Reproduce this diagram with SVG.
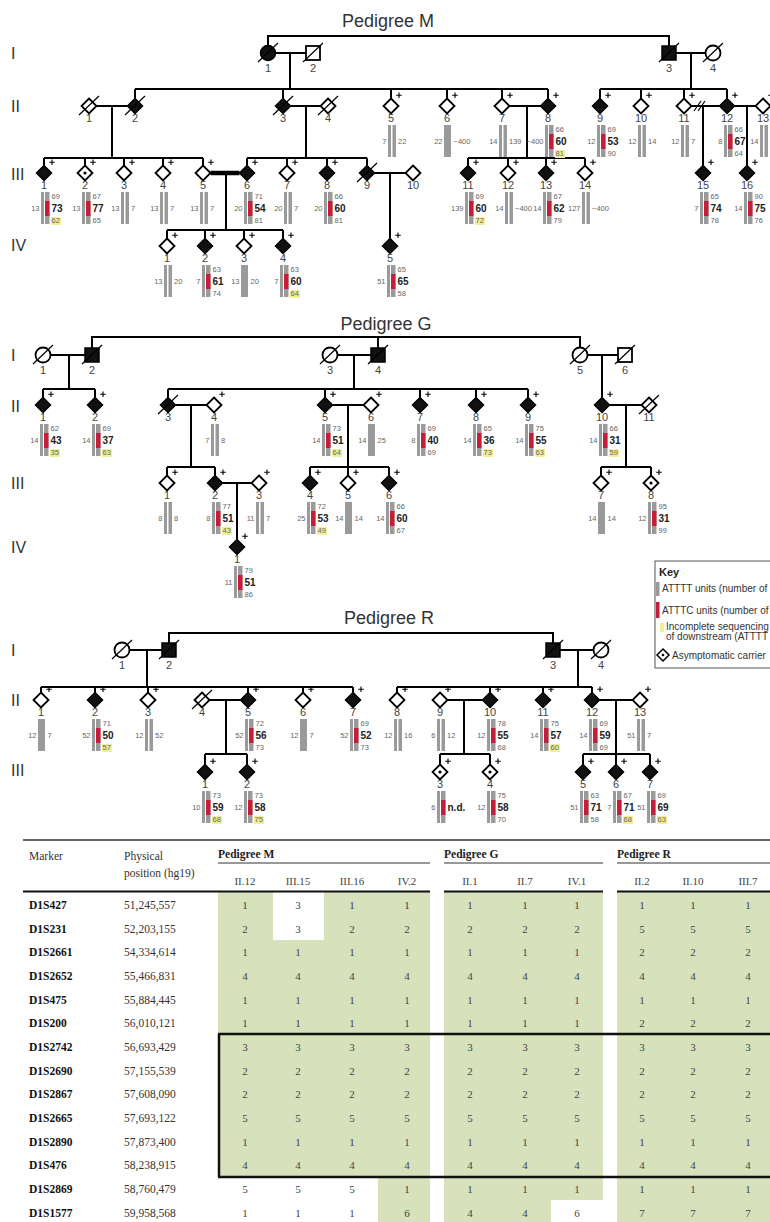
<svg xmlns="http://www.w3.org/2000/svg" width="770" height="1222" viewBox="0 0 770 1222">
<style>
text{font-family:"Liberation Sans",Arial,sans-serif}
.n{font-size:11px;fill:#444;text-anchor:middle}
.s{font-size:7.5px;fill:#666}
.sl{font-size:7.5px;fill:#666;text-anchor:end}
.b{font-size:10px;font-weight:bold;fill:#222}
.g{font-size:16px;fill:#333}
.ti{font-size:18px;fill:#333;text-anchor:middle}
.yl{fill:#f3ee98}
.ln{stroke:#000;stroke-width:2;fill:none}
.k{font-size:10px;fill:#333}
.tm,.tp,.th,.tc{font-family:"Liberation Serif","Times New Roman",serif}
.tm{font-size:11.5px;font-weight:bold;fill:#111}
.tp{font-size:11.5px;fill:#333}
.th{font-size:11.5px;font-weight:bold;fill:#222}
.tc{font-size:11px;fill:#444;text-anchor:middle}
.grn{fill:#d7e2bd}
</style>
<defs>
<polygon id="dF" points="0,-7.5 7.5,0 0,7.5 -7.5,0" fill="#111" stroke="#000" stroke-width="1.5"/>
<polygon id="dO" points="0,-7.5 7.5,0 0,7.5 -7.5,0" fill="#fff" stroke="#000" stroke-width="1.8"/>
<g id="dC"><polygon points="0,-7.5 7.5,0 0,7.5 -7.5,0" fill="#fff" stroke="#000" stroke-width="1.8"/><circle r="1.6" fill="#000"/></g>
<rect id="sqF" x="-7" y="-7" width="14" height="14" fill="#111" stroke="#000" stroke-width="1.5"/>
<rect id="sqO" x="-7" y="-7" width="14" height="14" fill="#fff" stroke="#000" stroke-width="1.8"/>
<circle id="ciO" r="7.5" fill="#fff" stroke="#000" stroke-width="1.8"/>
<circle id="ciF" r="7.5" fill="#111" stroke="#000" stroke-width="1.5"/>
<path id="pl" d="M8,-13.5V-8M5.25,-10.75H10.75" stroke="#000" stroke-width="1.1"/>
<path id="sl" d="M-10,9L10,-10" stroke="#000" stroke-width="1.2"/>
<g id="bU"><rect x="-3" y="19" width="3" height="32" fill="#9a9a9a"/><rect x="1.5" y="19" width="3.5" height="32" fill="#9a9a9a"/></g>
<g id="bA"><rect x="-3" y="19" width="3" height="32" fill="#9a9a9a"/><rect x="1" y="19" width="4.5" height="32" fill="#9a9a9a"/><rect x="1" y="28" width="4.5" height="15" fill="#c41e3a"/></g>
<rect id="bS" x="-3" y="19" width="7" height="32" fill="#9a9a9a"/>
</defs>
<rect width="770" height="1222" fill="#fff"/>

<!-- titles and generation labels -->
<text class="ti" x="388" y="27">Pedigree M</text>
<text class="ti" x="386" y="330">Pedigree G</text>
<text class="ti" x="389" y="624">Pedigree R</text>
<g id="gen-labels">
<text class="g" x="11" y="59">I</text><text class="g" x="11" y="112">II</text><text class="g" x="11" y="180">III</text><text class="g" x="11" y="251">IV</text>
<text class="g" x="11" y="361">I</text><text class="g" x="11" y="412">II</text><text class="g" x="11" y="489">III</text><text class="g" x="11" y="553">IV</text>
<text class="g" x="11" y="656">I</text><text class="g" x="11" y="706">II</text><text class="g" x="11" y="776">III</text>
</g>

<g id="connectors">
<path class="ln" d="M268,45.5V36H669V46M275.5,53H306M290,53V89M135,89H548M135,89V98.5M283,89V98.5M391,89V98.5M447,89V98.5M502,89V98.5M548,89V98.5M96.5,106H127.5M112,106V158M44,158H203M44,158V165.5M85,158V165.5M124,158V165.5M163,158V165.5M203,158V165.5M290.5,106H320.5M306,106V158M247,158H367M247,158V165.5M287,158V165.5M327,158V165.5M367,158V165.5M509.5,106H540.5M527,106V158M468,158H585M468,158V165.5M508,158V165.5M546,158V165.5M585,158V165.5M676,53H705.5M691,53V89M600,89H727M600,89V98.5M641,89V98.5M684,89V98.5M727,89V98.5M691.5,106H719.5M703,106V165.5M734.5,106H755.5M747,106V165.5M374.5,173H405.5M390,173V238.5M226,173V230M167,230H283M167,230V238.5M205,230V238.5M244,230V238.5M283,230V238.5"/>
<path d="M210.5,173H239.5" stroke="#000" stroke-width="4.5"/>
<path d="M694,111L701,101M698,111L705,101" stroke="#000" stroke-width="1.2"/>
<path class="ln" d="M92,348V337H580V347.5M378,337V348M50.5,355H85M69,355V389M43,389H95M43,389V397.5M95,389V397.5M337.5,355H371M354,355V389M168,389H528M168,389V397.5M325,389V397.5M420,389V397.5M476,389V397.5M528,389V397.5M587.5,355H618M602,355V397.5M175.5,405H206.5M191,405V467M167,467H215M167,467V475.5M215,467V475.5M332.5,405H363.5M348,405V467M310,467H389M310,467V475.5M348,467V475.5M389,467V475.5M609.5,405H641.5M626,405V467M601,467H651M601,467V475.5M651,467V475.5M222.5,483H251.5M237,483V539.5"/>
<path class="ln" d="M169,643V633H553V643M129.5,650H162M147,650V687M41,687H353M41,687V692.5M95,687V692.5M148,687V692.5M248,687V692.5M303,687V692.5M353,687V692.5M560,650H593.5M578,650V687M397,687H592M397,687V692.5M490,687V692.5M543,687V692.5M592,687V692.5M209.5,700H240.5M226,700V754M205,754H247M205,754V764.5M247,754V764.5M447.5,700H482.5M464,700V754M440,754H490M440,754V764.5M490,754V764.5M599.5,700H632.5M616,700V754M583,754H650M583,754V764.5M616,754V764.5M650,754V764.5"/>
</g>

<!-- Pedigree M -->
<g id="M-I1" transform="translate(268,53)"><use href="#ciF"/><use href="#sl"/><text class="n" y="19">1</text></g>
<g id="M-I2" transform="translate(313,53)"><use href="#sqO"/><use href="#sl"/><text class="n" y="19">2</text></g>
<g id="M-I3" transform="translate(669,53)"><use href="#sqF"/><use href="#sl"/><text class="n" y="19">3</text></g>
<g id="M-I4" transform="translate(713,53)"><use href="#ciO"/><use href="#sl"/><text class="n" y="19">4</text></g>

<g id="M-II1" transform="translate(89,106)"><use href="#dO"/><use href="#sl"/><text class="n" y="16">1</text></g>
<g id="M-II2" transform="translate(135,106)"><use href="#dF"/><use href="#sl"/><text class="n" y="16">2</text></g>
<g id="M-II3" transform="translate(283,106)"><use href="#dF"/><use href="#sl"/><text class="n" y="16">3</text></g>
<g id="M-II4" transform="translate(328,106)"><use href="#dO"/><use href="#sl"/><text class="n" y="16">4</text></g>
<g id="M-II5" transform="translate(391,106)"><use href="#dO"/><use href="#pl"/><text class="n" y="16">5</text><use href="#bU"/><text class="sl" x="-4.5" y="38">7</text><text class="s" x="7" y="38">22</text></g>
<g id="M-II6" transform="translate(447,106)"><use href="#dO"/><use href="#pl"/><text class="n" y="16">6</text><use href="#bS"/><text class="sl" x="-4.5" y="38">22</text><text class="s" x="6.5" y="38">~400</text></g>
<g id="M-II7" transform="translate(502,106)"><use href="#dO"/><use href="#pl"/><text class="n" y="16">7</text><use href="#bU"/><text class="sl" x="-4.5" y="38">14</text><text class="s" x="7" y="38">139</text></g>
<g id="M-II8" transform="translate(548,106)"><use href="#dF"/><use href="#pl"/><text class="n" y="16">8</text><use href="#bA"/><text class="sl" x="-4.5" y="38">~400</text><text class="s" x="7.5" y="26">66</text><text class="b" x="7.5" y="39">60</text><rect class="yl" x="7" y="44" width="10" height="8"/><text class="s" x="7.5" y="50">81</text></g>
<g id="M-II9" transform="translate(600,106)"><use href="#dF"/><use href="#pl"/><text class="n" y="16">9</text><use href="#bA"/><text class="sl" x="-4.5" y="38">12</text><text class="s" x="7.5" y="26">69</text><text class="b" x="7.5" y="39">53</text><text class="s" x="7.5" y="50">90</text></g>
<g id="M-II10" transform="translate(641,106)"><use href="#dO"/><use href="#pl"/><text class="n" y="16">10</text><use href="#bU"/><text class="sl" x="-4.5" y="38">12</text><text class="s" x="7" y="38">14</text></g>
<g id="M-II11" transform="translate(684,106)"><use href="#dO"/><use href="#pl"/><text class="n" y="16">11</text><use href="#bU"/><text class="sl" x="-4.5" y="38">12</text><text class="s" x="7" y="38">7</text></g>
<g id="M-II12" transform="translate(727,106)"><use href="#dF"/><use href="#pl"/><text class="n" y="16">12</text><use href="#bA"/><text class="sl" x="-4.5" y="38">8</text><text class="s" x="7.5" y="26">66</text><text class="b" x="7.5" y="39">67</text><text class="s" x="7.5" y="50">64</text></g>
<g id="M-II13" transform="translate(763,106)"><use href="#dO"/><use href="#pl"/><text class="n" y="16">13</text><use href="#bU"/><text class="sl" x="-4.5" y="38">14</text></g>

<g id="M-III1" transform="translate(44,173)"><use href="#dF"/><use href="#pl"/><text class="n" y="16">1</text><use href="#bA"/><text class="sl" x="-4.5" y="38">13</text><text class="s" x="7.5" y="26">69</text><text class="b" x="7.5" y="39">73</text><rect class="yl" x="7" y="44" width="10" height="8"/><text class="s" x="7.5" y="50">62</text></g>
<g id="M-III2" transform="translate(85,173)"><use href="#dC"/><use href="#pl"/><text class="n" y="16">2</text><use href="#bA"/><text class="sl" x="-4.5" y="38">13</text><text class="s" x="7.5" y="26">67</text><text class="b" x="7.5" y="39">77</text><text class="s" x="7.5" y="50">65</text></g>
<g id="M-III3" transform="translate(124,173)"><use href="#dO"/><use href="#pl"/><text class="n" y="16">3</text><use href="#bU"/><text class="sl" x="-4.5" y="38">13</text><text class="s" x="7" y="38">7</text></g>
<g id="M-III4" transform="translate(163,173)"><use href="#dO"/><use href="#pl"/><text class="n" y="16">4</text><use href="#bU"/><text class="sl" x="-4.5" y="38">13</text><text class="s" x="7" y="38">7</text></g>
<g id="M-III5" transform="translate(203,173)"><use href="#dO"/><use href="#pl"/><text class="n" y="16">5</text><use href="#bU"/><text class="sl" x="-4.5" y="38">13</text><text class="s" x="7" y="38">7</text></g>
<g id="M-III6" transform="translate(247,173)"><use href="#dF"/><use href="#pl"/><text class="n" y="16">6</text><use href="#bA"/><text class="sl" x="-4.5" y="38">20</text><text class="s" x="7.5" y="26">71</text><text class="b" x="7.5" y="39">54</text><text class="s" x="7.5" y="50">81</text></g>
<g id="M-III7" transform="translate(287,173)"><use href="#dO"/><use href="#pl"/><text class="n" y="16">7</text><use href="#bU"/><text class="sl" x="-4.5" y="38">20</text><text class="s" x="7" y="38">7</text></g>
<g id="M-III8" transform="translate(327,173)"><use href="#dF"/><use href="#pl"/><text class="n" y="16">8</text><use href="#bA"/><text class="sl" x="-4.5" y="38">20</text><text class="s" x="7.5" y="26">66</text><text class="b" x="7.5" y="39">60</text><text class="s" x="7.5" y="50">81</text></g>
<g id="M-III9" transform="translate(367,173)"><use href="#dF"/><use href="#sl"/><text class="n" y="16">9</text></g>
<g id="M-III10" transform="translate(413,173)"><use href="#dO"/><text class="n" y="16">10</text></g>
<g id="M-III11" transform="translate(468,173)"><use href="#dF"/><use href="#pl"/><text class="n" y="16">11</text><use href="#bA"/><text class="sl" x="-4.5" y="38">139</text><text class="s" x="7.5" y="26">69</text><text class="b" x="7.5" y="39">60</text><rect class="yl" x="7" y="44" width="10" height="8"/><text class="s" x="7.5" y="50">72</text></g>
<g id="M-III12" transform="translate(508,173)"><use href="#dO"/><use href="#pl"/><text class="n" y="16">12</text><use href="#bU"/><text class="sl" x="-4.5" y="38">14</text><text class="s" x="7" y="38">~400</text></g>
<g id="M-III13" transform="translate(546,173)"><use href="#dF"/><use href="#pl"/><text class="n" y="16">13</text><use href="#bA"/><text class="sl" x="-4.5" y="38">14</text><text class="s" x="7.5" y="26">67</text><text class="b" x="7.5" y="39">62</text><text class="s" x="7.5" y="50">79</text></g>
<g id="M-III14" transform="translate(585,173)"><use href="#dO"/><use href="#pl"/><text class="n" y="16">14</text><use href="#bU"/><text class="sl" x="-4.5" y="38">127</text><text class="s" x="7" y="38">~400</text></g>
<g id="M-III15" transform="translate(703,173)"><use href="#dF"/><use href="#pl"/><text class="n" y="16">15</text><use href="#bA"/><text class="sl" x="-4.5" y="38">7</text><text class="s" x="7.5" y="26">65</text><text class="b" x="7.5" y="39">74</text><text class="s" x="7.5" y="50">78</text></g>
<g id="M-III16" transform="translate(747,173)"><use href="#dF"/><use href="#pl"/><text class="n" y="16">16</text><use href="#bA"/><text class="sl" x="-4.5" y="38">14</text><text class="s" x="7.5" y="26">90</text><text class="b" x="7.5" y="39">75</text><text class="s" x="7.5" y="50">76</text></g>

<g id="M-IV1" transform="translate(167,246)"><use href="#dO"/><use href="#pl"/><text class="n" y="16">1</text><use href="#bU"/><text class="sl" x="-4.5" y="38">13</text><text class="s" x="7" y="38">20</text></g>
<g id="M-IV2" transform="translate(205,246)"><use href="#dF"/><use href="#pl"/><text class="n" y="16">2</text><use href="#bA"/><text class="sl" x="-4.5" y="38">7</text><text class="s" x="7.5" y="26">63</text><text class="b" x="7.5" y="39">61</text><text class="s" x="7.5" y="50">74</text></g>
<g id="M-IV3" transform="translate(244,246)"><use href="#dO"/><use href="#pl"/><text class="n" y="16">3</text><use href="#bS"/><text class="sl" x="-4.5" y="38">13</text><text class="s" x="6.5" y="38">20</text></g>
<g id="M-IV4" transform="translate(283,246)"><use href="#dF"/><use href="#pl"/><text class="n" y="16">4</text><use href="#bA"/><text class="sl" x="-4.5" y="38">7</text><text class="s" x="7.5" y="26">63</text><text class="b" x="7.5" y="39">60</text><rect class="yl" x="7" y="44" width="10" height="8"/><text class="s" x="7.5" y="50">64</text></g>
<g id="M-IV5" transform="translate(390,246)"><use href="#dF"/><use href="#pl"/><text class="n" y="16">5</text><use href="#bA"/><text class="sl" x="-4.5" y="38">51</text><text class="s" x="7.5" y="26">65</text><text class="b" x="7.5" y="39">65</text><text class="s" x="7.5" y="50">58</text></g>

<!-- Pedigree G -->
<g id="G-I1" transform="translate(43,355)"><use href="#ciO"/><use href="#sl"/><text class="n" y="19">1</text></g>
<g id="G-I2" transform="translate(92,355)"><use href="#sqF"/><use href="#sl"/><text class="n" y="19">2</text></g>
<g id="G-I3" transform="translate(330,355)"><use href="#ciO"/><use href="#sl"/><text class="n" y="19">3</text></g>
<g id="G-I4" transform="translate(378,355)"><use href="#sqF"/><use href="#sl"/><text class="n" y="19">4</text></g>
<g id="G-I5" transform="translate(580,355)"><use href="#ciO"/><use href="#sl"/><text class="n" y="19">5</text></g>
<g id="G-I6" transform="translate(625,355)"><use href="#sqO"/><use href="#sl"/><text class="n" y="19">6</text></g>

<g id="G-II1" transform="translate(43,405)"><use href="#dF"/><use href="#pl"/><text class="n" y="16">1</text><use href="#bA"/><text class="sl" x="-4.5" y="38">14</text><text class="s" x="7.5" y="26">62</text><text class="b" x="7.5" y="39">43</text><rect class="yl" x="7" y="44" width="10" height="8"/><text class="s" x="7.5" y="50">35</text></g>
<g id="G-II2" transform="translate(95,405)"><use href="#dF"/><use href="#pl"/><text class="n" y="16">2</text><use href="#bA"/><text class="sl" x="-4.5" y="38">14</text><text class="s" x="7.5" y="26">69</text><text class="b" x="7.5" y="39">37</text><rect class="yl" x="7" y="44" width="10" height="8"/><text class="s" x="7.5" y="50">63</text></g>
<g id="G-II3" transform="translate(168,405)"><use href="#dF"/><use href="#sl"/><text class="n" y="16">3</text></g>
<g id="G-II4" transform="translate(214,405)"><use href="#dO"/><use href="#pl"/><text class="n" y="16">4</text><use href="#bU"/><text class="sl" x="-4.5" y="38">7</text><text class="s" x="7" y="38">8</text></g>
<g id="G-II5" transform="translate(325,405)"><use href="#dF"/><use href="#pl"/><text class="n" y="16">5</text><use href="#bA"/><text class="sl" x="-4.5" y="38">14</text><text class="s" x="7.5" y="26">73</text><text class="b" x="7.5" y="39">51</text><rect class="yl" x="7" y="44" width="10" height="8"/><text class="s" x="7.5" y="50">64</text></g>
<g id="G-II6" transform="translate(371,405)"><use href="#dO"/><use href="#pl"/><text class="n" y="16">6</text><use href="#bS"/><text class="sl" x="-4.5" y="38">14</text><text class="s" x="6.5" y="38">25</text></g>
<g id="G-II7" transform="translate(420,405)"><use href="#dF"/><use href="#pl"/><text class="n" y="16">7</text><use href="#bA"/><text class="sl" x="-4.5" y="38">8</text><text class="s" x="7.5" y="26">69</text><text class="b" x="7.5" y="39">40</text><text class="s" x="7.5" y="50">69</text></g>
<g id="G-II8" transform="translate(476,405)"><use href="#dF"/><use href="#pl"/><text class="n" y="16">8</text><use href="#bA"/><text class="sl" x="-4.5" y="38">14</text><text class="s" x="7.5" y="26">65</text><text class="b" x="7.5" y="39">36</text><rect class="yl" x="7" y="44" width="10" height="8"/><text class="s" x="7.5" y="50">73</text></g>
<g id="G-II9" transform="translate(528,405)"><use href="#dF"/><use href="#pl"/><text class="n" y="16">9</text><use href="#bA"/><text class="sl" x="-4.5" y="38">14</text><text class="s" x="7.5" y="26">75</text><text class="b" x="7.5" y="39">55</text><rect class="yl" x="7" y="44" width="10" height="8"/><text class="s" x="7.5" y="50">63</text></g>
<g id="G-II10" transform="translate(602,405)"><use href="#dF"/><use href="#pl"/><text class="n" y="16">10</text><use href="#bA"/><text class="sl" x="-4.5" y="38">14</text><text class="s" x="7.5" y="26">66</text><text class="b" x="7.5" y="39">31</text><rect class="yl" x="7" y="44" width="10" height="8"/><text class="s" x="7.5" y="50">59</text></g>
<g id="G-II11" transform="translate(649,405)"><use href="#dO"/><use href="#sl"/><text class="n" y="16">11</text></g>

<g id="G-III1" transform="translate(167,483)"><use href="#dO"/><use href="#pl"/><text class="n" y="16">1</text><use href="#bU"/><text class="sl" x="-4.5" y="38">8</text><text class="s" x="7" y="38">8</text></g>
<g id="G-III2" transform="translate(215,483)"><use href="#dF"/><use href="#pl"/><text class="n" y="16">2</text><use href="#bA"/><text class="sl" x="-4.5" y="38">8</text><text class="s" x="7.5" y="26">77</text><text class="b" x="7.5" y="39">51</text><rect class="yl" x="7" y="44" width="10" height="8"/><text class="s" x="7.5" y="50">43</text></g>
<g id="G-III3" transform="translate(259,483)"><use href="#dO"/><use href="#pl"/><text class="n" y="16">3</text><use href="#bU"/><text class="sl" x="-4.5" y="38">11</text><text class="s" x="7" y="38">7</text></g>
<g id="G-III4" transform="translate(310,483)"><use href="#dF"/><use href="#pl"/><text class="n" y="16">4</text><use href="#bA"/><text class="sl" x="-4.5" y="38">25</text><text class="s" x="7.5" y="26">72</text><text class="b" x="7.5" y="39">53</text><rect class="yl" x="7" y="44" width="10" height="8"/><text class="s" x="7.5" y="50">49</text></g>
<g id="G-III5" transform="translate(348,483)"><use href="#dO"/><use href="#pl"/><text class="n" y="16">5</text><use href="#bS"/><text class="sl" x="-4.5" y="38">14</text><text class="s" x="6.5" y="38">14</text></g>
<g id="G-III6" transform="translate(389,483)"><use href="#dF"/><use href="#pl"/><text class="n" y="16">6</text><use href="#bA"/><text class="sl" x="-4.5" y="38">14</text><text class="s" x="7.5" y="26">66</text><text class="b" x="7.5" y="39">60</text><text class="s" x="7.5" y="50">67</text></g>
<g id="G-III7" transform="translate(601,483)"><use href="#dO"/><use href="#pl"/><text class="n" y="16">7</text><use href="#bS"/><text class="sl" x="-4.5" y="38">14</text><text class="s" x="6.5" y="38">14</text></g>
<g id="G-III8" transform="translate(651,483)"><use href="#dC"/><use href="#pl"/><text class="n" y="16">8</text><use href="#bA"/><text class="sl" x="-4.5" y="38">12</text><text class="s" x="7.5" y="26">95</text><text class="b" x="7.5" y="39">31</text><text class="s" x="7.5" y="50">99</text></g>
<g id="G-IV1" transform="translate(237,547)"><use href="#dF"/><use href="#pl"/><text class="n" y="16">1</text><use href="#bA"/><text class="sl" x="-4.5" y="38">11</text><text class="s" x="7.5" y="26">79</text><text class="b" x="7.5" y="39">51</text><text class="s" x="7.5" y="50">86</text></g>

<!-- Key -->
<g id="key">
<rect x="655" y="561" width="140" height="107" fill="#fff" stroke="#555" stroke-width="1"/>
<text x="659" y="576" style="font-size:11px;font-weight:bold;fill:#222">Key</text>
<rect x="656" y="582" width="3.5" height="14" fill="#9a9a9a"/>
<text class="k" x="662" y="592">ATTTT units (number of</text>
<rect x="656" y="602" width="3.5" height="16" fill="#c41e3a"/>
<text class="k" x="662" y="614">ATTTC units (number of</text>
<rect x="660" y="623" width="4" height="9" fill="#f3ee98"/>
<text class="k" x="666" y="630">Incomplete sequencing</text>
<text class="k" x="666" y="640">of downstream (ATTTT</text>
<polygon points="663,649 669,655 663,661 657,655" fill="#fff" stroke="#000" stroke-width="1.5"/><circle cx="663" cy="655" r="1.3" fill="#000"/>
<text class="k" x="672" y="659">Asymptomatic carrier</text>
</g>

<!-- Pedigree R -->
<g id="R-I1" transform="translate(122,650)"><use href="#ciO"/><use href="#sl"/><text class="n" y="19">1</text></g>
<g id="R-I2" transform="translate(169,650)"><use href="#sqF"/><use href="#sl"/><text class="n" y="19">2</text></g>
<g id="R-I3" transform="translate(553,650)"><use href="#sqF"/><use href="#sl"/><text class="n" y="19">3</text></g>
<g id="R-I4" transform="translate(601,650)"><use href="#ciO"/><use href="#sl"/><text class="n" y="19">4</text></g>

<g id="R-II1" transform="translate(41,700)"><use href="#dO"/><use href="#pl"/><text class="n" y="16">1</text><use href="#bS"/><text class="sl" x="-4.5" y="38">12</text><text class="s" x="6.5" y="38">7</text></g>
<g id="R-II2" transform="translate(95,700)"><use href="#dF"/><use href="#pl"/><text class="n" y="16">2</text><use href="#bA"/><text class="sl" x="-4.5" y="38">52</text><text class="s" x="7.5" y="26">71</text><text class="b" x="7.5" y="39">50</text><rect class="yl" x="7" y="44" width="10" height="8"/><text class="s" x="7.5" y="50">57</text></g>
<g id="R-II3" transform="translate(148,700)"><use href="#dO"/><use href="#pl"/><text class="n" y="16">3</text><use href="#bU"/><text class="sl" x="-4.5" y="38">12</text><text class="s" x="7" y="38">52</text></g>
<g id="R-II4" transform="translate(202,700)"><use href="#dO"/><use href="#sl"/><text class="n" y="16">4</text></g>
<g id="R-II5" transform="translate(248,700)"><use href="#dF"/><use href="#pl"/><text class="n" y="16">5</text><use href="#bA"/><text class="sl" x="-4.5" y="38">52</text><text class="s" x="7.5" y="26">72</text><text class="b" x="7.5" y="39">56</text><text class="s" x="7.5" y="50">73</text></g>
<g id="R-II6" transform="translate(303,700)"><use href="#dO"/><use href="#pl"/><text class="n" y="16">6</text><use href="#bS"/><text class="sl" x="-4.5" y="38">12</text><text class="s" x="6.5" y="38">7</text></g>
<g id="R-II7" transform="translate(353,700)"><use href="#dF"/><use href="#pl"/><text class="n" y="16">7</text><use href="#bA"/><text class="sl" x="-4.5" y="38">52</text><text class="s" x="7.5" y="26">69</text><text class="b" x="7.5" y="39">52</text><text class="s" x="7.5" y="50">73</text></g>
<g id="R-II8" transform="translate(397,700)"><use href="#dO"/><use href="#pl"/><text class="n" y="16">8</text><use href="#bU"/><text class="sl" x="-4.5" y="38">12</text><text class="s" x="7" y="38">16</text></g>
<g id="R-II9" transform="translate(440,700)"><use href="#dO"/><use href="#pl"/><text class="n" y="16">9</text><use href="#bU"/><text class="sl" x="-4.5" y="38">6</text><text class="s" x="7" y="38">12</text></g>
<g id="R-II10" transform="translate(490,700)"><use href="#dF"/><use href="#pl"/><text class="n" y="16">10</text><use href="#bA"/><text class="sl" x="-4.5" y="38">12</text><text class="s" x="7.5" y="26">78</text><text class="b" x="7.5" y="39">55</text><text class="s" x="7.5" y="50">68</text></g>
<g id="R-II11" transform="translate(543,700)"><use href="#dF"/><use href="#pl"/><text class="n" y="16">11</text><use href="#bA"/><text class="sl" x="-4.5" y="38">14</text><text class="s" x="7.5" y="26">75</text><text class="b" x="7.5" y="39">57</text><rect class="yl" x="7" y="44" width="10" height="8"/><text class="s" x="7.5" y="50">60</text></g>
<g id="R-II12" transform="translate(592,700)"><use href="#dF"/><use href="#pl"/><text class="n" y="16">12</text><use href="#bA"/><text class="sl" x="-4.5" y="38">14</text><text class="s" x="7.5" y="26">69</text><text class="b" x="7.5" y="39">59</text><text class="s" x="7.5" y="50">69</text></g>
<g id="R-II13" transform="translate(640,700)"><use href="#dO"/><use href="#pl"/><text class="n" y="16">13</text><use href="#bU"/><text class="sl" x="-4.5" y="38">51</text><text class="s" x="7" y="38">7</text></g>

<g id="R-III1" transform="translate(205,772)"><use href="#dF"/><use href="#pl"/><text class="n" y="16">1</text><use href="#bA"/><text class="sl" x="-4.5" y="38">10</text><text class="s" x="7.5" y="26">73</text><text class="b" x="7.5" y="39">59</text><rect class="yl" x="7" y="44" width="10" height="8"/><text class="s" x="7.5" y="50">68</text></g>
<g id="R-III2" transform="translate(247,772)"><use href="#dF"/><use href="#pl"/><text class="n" y="16">2</text><use href="#bA"/><text class="sl" x="-4.5" y="38">12</text><text class="s" x="7.5" y="26">73</text><text class="b" x="7.5" y="39">58</text><rect class="yl" x="7" y="44" width="10" height="8"/><text class="s" x="7.5" y="50">75</text></g>
<g id="R-III3" transform="translate(440,772)"><use href="#dC"/><use href="#pl"/><text class="n" y="16">3</text><use href="#bA"/><text class="sl" x="-4.5" y="38">6</text><text class="b" x="7.5" y="39">n.d.</text></g>
<g id="R-III4" transform="translate(490,772)"><use href="#dC"/><use href="#pl"/><text class="n" y="16">4</text><use href="#bA"/><text class="sl" x="-4.5" y="38">12</text><text class="s" x="7.5" y="26">75</text><text class="b" x="7.5" y="39">58</text><text class="s" x="7.5" y="50">70</text></g>
<g id="R-III5" transform="translate(583,772)"><use href="#dF"/><use href="#pl"/><text class="n" y="16">5</text><use href="#bA"/><text class="sl" x="-4.5" y="38">51</text><text class="s" x="7.5" y="26">63</text><text class="b" x="7.5" y="39">71</text><text class="s" x="7.5" y="50">58</text></g>
<g id="R-III6" transform="translate(616,772)"><use href="#dF"/><use href="#pl"/><text class="n" y="16">6</text><use href="#bA"/><text class="sl" x="-4.5" y="38">7</text><text class="s" x="7.5" y="26">67</text><text class="b" x="7.5" y="39">71</text><rect class="yl" x="7" y="44" width="10" height="8"/><text class="s" x="7.5" y="50">68</text></g>
<g id="R-III7" transform="translate(650,772)"><use href="#dF"/><use href="#pl"/><text class="n" y="16">7</text><use href="#bA"/><text class="sl" x="-4.5" y="38">51</text><text class="s" x="7.5" y="26">69</text><text class="b" x="7.5" y="39">69</text><rect class="yl" x="7" y="44" width="10" height="8"/><text class="s" x="7.5" y="50">63</text></g>

<!-- Table -->
<g id="table">
<rect class="grn" x="218" y="892" width="212" height="285"/>
<rect fill="#fff" x="273" y="892" width="51" height="48"/>
<rect class="grn" x="378" y="1177" width="52" height="45"/>
<rect class="grn" x="444" y="892" width="159" height="308"/>
<rect class="grn" x="444" y="1200" width="107" height="22"/>
<rect class="grn" x="617" y="892" width="153" height="330"/>
<path d="M23,840H770" stroke="#333" stroke-width="1.3"/>
<path d="M218,863H430M444,863H603M617,863H770" stroke="#333" stroke-width="1"/>
<path d="M23,891.5H430M444,891.5H603M617,891.5H770" stroke="#111" stroke-width="2"/>
<path d="M218,1034H770M218,1177H770M219,1034V1177" stroke="#111" stroke-width="2.5" fill="none"/>
<text class="tp" x="29" y="860">Marker</text>
<text class="tp" x="124" y="860">Physical</text>
<text class="tp" x="124" y="877">position (hg19)</text>
<text class="th" x="218" y="858">Pedigree M</text>
<text class="th" x="444" y="858">Pedigree G</text>
<text class="th" x="617" y="858">Pedigree R</text>
<g class="hdr">
<text class="tc" x="245" y="885">II.12</text><text class="tc" x="298" y="885">III.15</text><text class="tc" x="352" y="885">III.16</text><text class="tc" x="407" y="885">IV.2</text>
<text class="tc" x="470" y="885">II.1</text><text class="tc" x="525" y="885">II.7</text><text class="tc" x="577" y="885">IV.1</text>
<text class="tc" x="642" y="885">II.2</text><text class="tc" x="693" y="885">II.10</text><text class="tc" x="748" y="885">III.7</text>
</g>
<g transform="translate(0,909)"><text class="tm" x="29">D1S427</text><text class="tp" x="124">51,245,557</text><text class="tc" x="245">1</text><text class="tc" x="298">3</text><text class="tc" x="352">1</text><text class="tc" x="407">1</text><text class="tc" x="470">1</text><text class="tc" x="525">1</text><text class="tc" x="577">1</text><text class="tc" x="642">1</text><text class="tc" x="693">1</text><text class="tc" x="748">1</text></g>
<g transform="translate(0,932.7)"><text class="tm" x="29">D1S231</text><text class="tp" x="124">52,203,155</text><text class="tc" x="245">2</text><text class="tc" x="298">3</text><text class="tc" x="352">2</text><text class="tc" x="407">2</text><text class="tc" x="470">2</text><text class="tc" x="525">2</text><text class="tc" x="577">2</text><text class="tc" x="642">5</text><text class="tc" x="693">5</text><text class="tc" x="748">5</text></g>
<g transform="translate(0,956.3)"><text class="tm" x="29">D1S2661</text><text class="tp" x="124">54,334,614</text><text class="tc" x="245">1</text><text class="tc" x="298">1</text><text class="tc" x="352">1</text><text class="tc" x="407">1</text><text class="tc" x="470">1</text><text class="tc" x="525">1</text><text class="tc" x="577">1</text><text class="tc" x="642">2</text><text class="tc" x="693">2</text><text class="tc" x="748">2</text></g>
<g transform="translate(0,980)"><text class="tm" x="29">D1S2652</text><text class="tp" x="124">55,466,831</text><text class="tc" x="245">4</text><text class="tc" x="298">4</text><text class="tc" x="352">4</text><text class="tc" x="407">4</text><text class="tc" x="470">4</text><text class="tc" x="525">4</text><text class="tc" x="577">4</text><text class="tc" x="642">4</text><text class="tc" x="693">4</text><text class="tc" x="748">4</text></g>
<g transform="translate(0,1003.6)"><text class="tm" x="29">D1S475</text><text class="tp" x="124">55,884,445</text><text class="tc" x="245">1</text><text class="tc" x="298">1</text><text class="tc" x="352">1</text><text class="tc" x="407">1</text><text class="tc" x="470">1</text><text class="tc" x="525">1</text><text class="tc" x="577">1</text><text class="tc" x="642">1</text><text class="tc" x="693">1</text><text class="tc" x="748">1</text></g>
<g transform="translate(0,1027.3)"><text class="tm" x="29">D1S200</text><text class="tp" x="124">56,010,121</text><text class="tc" x="245">1</text><text class="tc" x="298">1</text><text class="tc" x="352">1</text><text class="tc" x="407">1</text><text class="tc" x="470">1</text><text class="tc" x="525">1</text><text class="tc" x="577">1</text><text class="tc" x="642">2</text><text class="tc" x="693">2</text><text class="tc" x="748">2</text></g>
<g transform="translate(0,1050.9)"><text class="tm" x="29">D1S2742</text><text class="tp" x="124">56,693,429</text><text class="tc" x="245">3</text><text class="tc" x="298">3</text><text class="tc" x="352">3</text><text class="tc" x="407">3</text><text class="tc" x="470">3</text><text class="tc" x="525">3</text><text class="tc" x="577">3</text><text class="tc" x="642">3</text><text class="tc" x="693">3</text><text class="tc" x="748">3</text></g>
<g transform="translate(0,1074.6)"><text class="tm" x="29">D1S2690</text><text class="tp" x="124">57,155,539</text><text class="tc" x="245">2</text><text class="tc" x="298">2</text><text class="tc" x="352">2</text><text class="tc" x="407">2</text><text class="tc" x="470">2</text><text class="tc" x="525">2</text><text class="tc" x="577">2</text><text class="tc" x="642">2</text><text class="tc" x="693">2</text><text class="tc" x="748">2</text></g>
<g transform="translate(0,1098.2)"><text class="tm" x="29">D1S2867</text><text class="tp" x="124">57,608,090</text><text class="tc" x="245">2</text><text class="tc" x="298">2</text><text class="tc" x="352">2</text><text class="tc" x="407">2</text><text class="tc" x="470">2</text><text class="tc" x="525">2</text><text class="tc" x="577">2</text><text class="tc" x="642">2</text><text class="tc" x="693">2</text><text class="tc" x="748">2</text></g>
<g transform="translate(0,1121.9)"><text class="tm" x="29">D1S2665</text><text class="tp" x="124">57,693,122</text><text class="tc" x="245">5</text><text class="tc" x="298">5</text><text class="tc" x="352">5</text><text class="tc" x="407">5</text><text class="tc" x="470">5</text><text class="tc" x="525">5</text><text class="tc" x="577">5</text><text class="tc" x="642">5</text><text class="tc" x="693">5</text><text class="tc" x="748">5</text></g>
<g transform="translate(0,1145.5)"><text class="tm" x="29">D1S2890</text><text class="tp" x="124">57,873,400</text><text class="tc" x="245">1</text><text class="tc" x="298">1</text><text class="tc" x="352">1</text><text class="tc" x="407">1</text><text class="tc" x="470">1</text><text class="tc" x="525">1</text><text class="tc" x="577">1</text><text class="tc" x="642">1</text><text class="tc" x="693">1</text><text class="tc" x="748">1</text></g>
<g transform="translate(0,1169.2)"><text class="tm" x="29">D1S476</text><text class="tp" x="124">58,238,915</text><text class="tc" x="245">4</text><text class="tc" x="298">4</text><text class="tc" x="352">4</text><text class="tc" x="407">4</text><text class="tc" x="470">4</text><text class="tc" x="525">4</text><text class="tc" x="577">4</text><text class="tc" x="642">4</text><text class="tc" x="693">4</text><text class="tc" x="748">4</text></g>
<g transform="translate(0,1192.8)"><text class="tm" x="29">D1S2869</text><text class="tp" x="124">58,760,479</text><text class="tc" x="245">5</text><text class="tc" x="298">5</text><text class="tc" x="352">5</text><text class="tc" x="407">1</text><text class="tc" x="470">1</text><text class="tc" x="525">1</text><text class="tc" x="577">1</text><text class="tc" x="642">1</text><text class="tc" x="693">1</text><text class="tc" x="748">1</text></g>
<g transform="translate(0,1216.5)"><text class="tm" x="29">D1S1577</text><text class="tp" x="124">59,958,568</text><text class="tc" x="245">1</text><text class="tc" x="298">1</text><text class="tc" x="352">1</text><text class="tc" x="407">6</text><text class="tc" x="470">4</text><text class="tc" x="525">4</text><text class="tc" x="577">6</text><text class="tc" x="642">7</text><text class="tc" x="693">7</text><text class="tc" x="748">7</text></g>
</g>
</svg>
